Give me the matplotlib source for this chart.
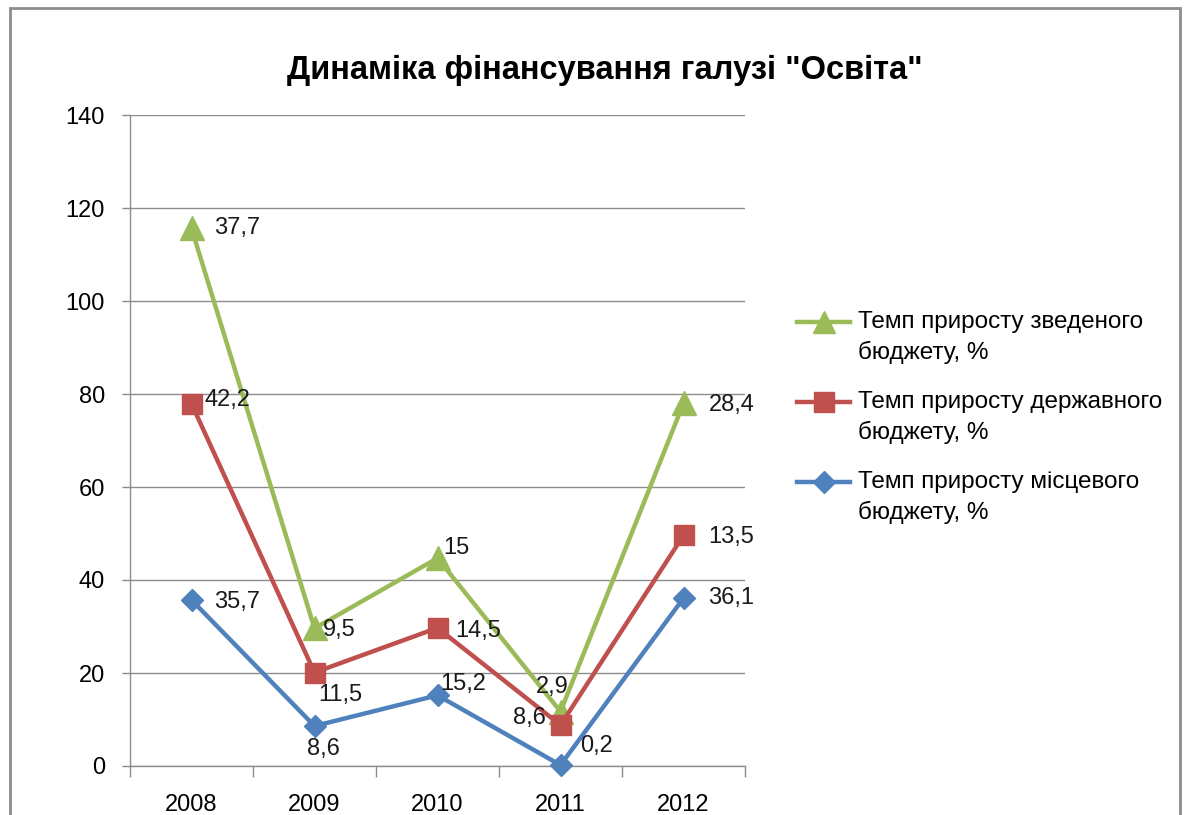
"""Stacked line chart: dynamics of education funding (Ukrainian)."""

import matplotlib
matplotlib.use("Agg")
import matplotlib.pyplot as plt
import numpy as np
from matplotlib.lines import Line2D
from matplotlib.patches import Rectangle

years = ["2008", "2009", "2010", "2011", "2012"]

# individual growth rates (the labels); lines are stacked like in Excel
local_budget = [35.7, 8.6, 15.2, 0.2, 36.1]
state_budget = [42.2, 11.5, 14.5, 8.6, 13.5]
consolidated_budget = [37.7, 9.5, 15.0, 2.9, 28.4]

label_local = "Темп приросту місцевого\nбюджету, %"
label_state = "Темп приросту державного\nбюджету, %"
label_consolidated = "Темп приросту зведеного\nбюджету, %"

title = 'Динаміка фінансування галузі "Освіта"'

plt.rcParams["font.family"] = ["Liberation Sans", "DejaVu Sans"]

W, H = 1186, 815
fig = plt.figure(figsize=(W / 100, H / 100), dpi=100)
ax = fig.add_axes([130 / W, 49 / H, 615 / W, 651 / H])

# chart frame
fig.add_artist(Rectangle((10 / W, -0.05), 1170 / W, (H - 8) / H + 0.05,
                         transform=fig.transFigure, fill=False,
                         edgecolor="#8c8c8c", linewidth=2))

x = np.arange(len(years))
lvl1 = np.array(local_budget)
lvl2 = lvl1 + np.array(state_budget)
lvl3 = lvl2 + np.array(consolidated_budget)

series = [
    (lvl3, consolidated_budget, "#9BBB59", "^", 17, label_consolidated),
    (lvl2, state_budget, "#C0504D", "s", 14.5, label_state),
    (lvl1, local_budget, "#4F81BD", "D", 11.5, label_local),
]

# label offsets in pixels (dx, dy), per series then per year
offsets = [
    [(23, 0), (8, -2), (6, 10), (-25, 25), (25, -2)],
    [(13, 4), (4, -22), (18, -3), (-48, 7), (25, -2)],
    [(23, -2), (-7, -23), (3, 11), (20, 19), (25, 0)],
]

for (yv, labels, color, marker, ms, name), offs in zip(series, offsets):
    ax.plot(x, yv, color=color, linewidth=3.2, marker=marker, markersize=ms,
            zorder=3, clip_on=False)
    for xi, yi, val, (dx, dy) in zip(x, yv, labels, offs):
        txt = f"{val:g}".replace(".", ",")
        ax.annotate(txt, (xi, yi), xytext=(dx * 0.72, dy * 0.72),
                    textcoords="offset points", ha="left", va="center",
                    fontsize=17, color="#1a1a1a", zorder=4)

ax.set_xlim(-0.5, len(years) - 0.5)
ax.set_ylim(0, 140)
ax.set_yticks(np.arange(0, 141, 20))
ax.yaxis.grid(True, color="#8c8c8c", linewidth=1)
ax.set_axisbelow(True)
ax.set_xticks(x)
ax.set_xticklabels(years, fontsize=17)
ax.set_xticks(np.arange(-0.5, len(years)), minor=True)
ax.tick_params(axis="x", which="major", length=0, pad=20)
ax.tick_params(axis="x", which="minor", length=8, color="#8c8c8c", width=1)
ax.tick_params(axis="y", length=6, color="#8c8c8c", width=1, labelsize=17, pad=12)
for s in ["top", "right"]:
    ax.spines[s].set_visible(False)
for s in ["left", "bottom"]:
    ax.spines[s].set_color("#8c8c8c")
    ax.spines[s].set_linewidth(1)

fig.text(605 / W, 1 - 70 / H, title, ha="center", va="center",
         fontsize=23.5, fontweight="bold")

# legend drawn by hand so the key lines up with the first text line
leg_y = [322, 402, 482]
for (yv, labels, color, marker, ms, name), ly in zip(series, leg_y):
    yf = 1 - ly / H
    fig.add_artist(Line2D([797 / W, 850 / W], [yf, yf], transform=fig.transFigure,
                          color=color, linewidth=3.2))
    fig.add_artist(Line2D([823.5 / W], [yf], transform=fig.transFigure,
                          color=color, marker=marker, markersize=ms * 0.95))
    fig.text(858 / W, 1 - (ly - 11) / H, name, ha="left", va="top",
             fontsize=17.5, linespacing=1.45, transform=fig.transFigure)

fig.savefig("out.png", dpi=100)
